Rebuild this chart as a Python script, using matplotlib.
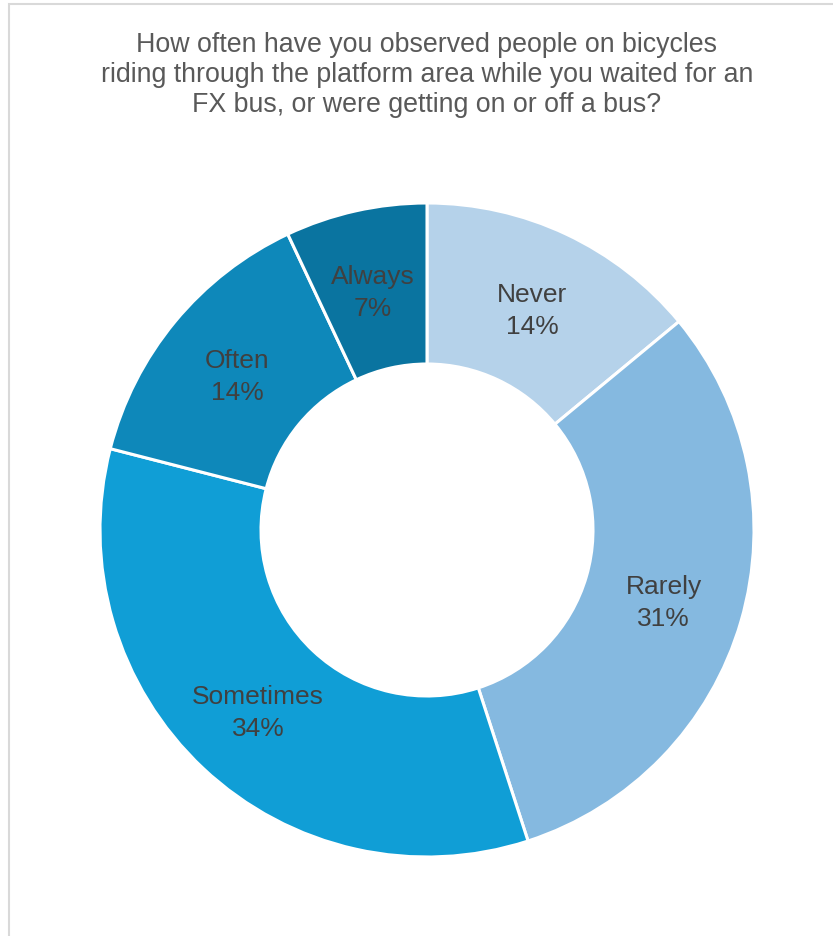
import numpy as np
import matplotlib.pyplot as plt
from matplotlib.patches import Rectangle
from matplotlib.transforms import offset_copy

plt.rcParams["font.family"] = ["Liberation Sans", "DejaVu Sans"]

# Respuestas de la encuesta (porcentaje)
categorias = ["Never", "Rarely", "Sometimes", "Often", "Always"]
porcentajes = [14, 31, 34, 14, 7]
colores = ["#B5D2EA", "#85B9E0", "#109ED6", "#0E88BA", "#0A74A0"]

titulo = ("How often have you observed people on bicycles\n"
          "riding through the platform area while you waited for an\n"
          "FX bus, or were getting on or off a bus?")

W, H = 833, 937
fig = plt.figure(figsize=(W / 100, H / 100), dpi=100, facecolor="white")

# marco gris claro del área del gráfico
fig.patches.append(Rectangle((9 / W, -0.1), 1.2, (H - 5) / H + 0.1,
                             transform=fig.transFigure, fill=False,
                             edgecolor="#D9D9D9", linewidth=1.5))

cx, cy, r = 427, 531, 327
ax = fig.add_axes([(cx - r) / W, (H - cy - r) / H, 2 * r / W, 2 * r / H])
ax.set_aspect("equal")

ancho = 1 - 166 / 327
wedges, _ = ax.pie(porcentajes, colors=colores, startangle=90, counterclock=False,
                   radius=1, wedgeprops=dict(width=ancho, edgecolor="white", linewidth=2.2))
ax.set_xlim(-1, 1)
ax.set_ylim(-1, 1)

# etiquetas en el centro del anillo, un poco bajadas
trans_etq = offset_copy(ax.transData, fig=fig, x=0, y=-2, units="points")
r_etq = 1 - ancho / 2
for w, cat, p in zip(wedges, categorias, porcentajes):
    ang = np.deg2rad((w.theta1 + w.theta2) / 2)
    ax.text(r_etq * np.cos(ang), r_etq * np.sin(ang), f"{cat}\n{p}%",
            transform=trans_etq, ha="center", va="center", fontsize=19,
            color="#404040", linespacing=1.42)

fig.text(cx / W, 1 - 32 / H, titulo, ha="center", va="top", fontsize=19.3,
         color="#595959", linespacing=1.2)

fig.savefig("out.png", dpi=100, facecolor="white")
